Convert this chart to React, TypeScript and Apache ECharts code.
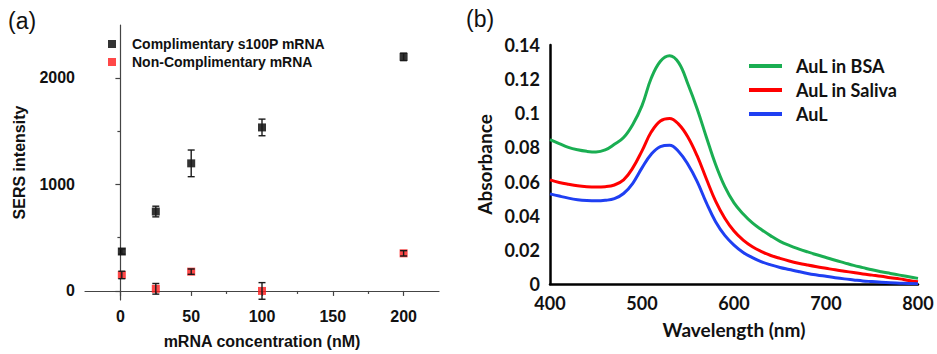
import React, { useEffect, useRef } from "react";
import * as echarts from "echarts";

// ---- Panel (a) data ----
const concentrations = [1, 25, 50, 100, 200];
const compMean = [370, 745, 1197, 1534, 2196];
const compErr = [25, 50, 125, 78, 35];
const nonCompMean = [150, 20, 181, 0, 353];
const nonCompErr = [35, 50, 25, 78, 25];
const xMajorA = [0, 50, 100, 150, 200];
const xMinorA = [25, 75, 125, 175];
const yMajorA = [0, 1000, 2000];
const yMinorA = [500, 1500];

// ---- Panel (b) data ----
const wavelengths = [
  400, 410, 420, 430, 440, 450, 460, 470, 480, 490, 500, 510, 520, 530, 540, 550, 560, 570, 580, 590, 600,
  610, 620, 630, 640, 650, 660, 670, 680, 690, 700, 710, 720, 730, 740, 750, 760, 770, 780, 790, 800,
];
const aulBSA = [
  0.0845, 0.0822, 0.0800, 0.0786, 0.0777, 0.0773, 0.0785, 0.0818, 0.0858, 0.0935, 0.1045, 0.1205, 0.1305, 0.1337,
  0.1295, 0.1170, 0.1025, 0.0860, 0.0700, 0.0570, 0.0475, 0.0410, 0.0358, 0.0318, 0.0282, 0.0250, 0.0226, 0.0206,
  0.0188, 0.0171, 0.0155, 0.0139, 0.0124, 0.0109, 0.0096, 0.0083, 0.0072, 0.0062, 0.0052, 0.0042, 0.0033,
];
const aulSaliva = [
  0.0610, 0.0595, 0.0584, 0.0575, 0.0570, 0.0568, 0.0570, 0.0580, 0.0610, 0.0680, 0.0780, 0.0890, 0.0955, 0.0970,
  0.0935, 0.0860, 0.0750, 0.0615, 0.0485, 0.0385, 0.0310, 0.0257, 0.0218, 0.0190, 0.0167, 0.0150, 0.0135, 0.0122,
  0.0111, 0.0101, 0.0092, 0.0083, 0.0075, 0.0067, 0.0059, 0.0052, 0.0045, 0.0037, 0.0030, 0.0021, 0.0013,
];
const aul = [
  0.0528, 0.0515, 0.0503, 0.0494, 0.0489, 0.0487, 0.0490, 0.0500, 0.0530, 0.0590, 0.0680, 0.0760, 0.0805, 0.0813,
  0.0775, 0.0700, 0.0600, 0.0475, 0.0365, 0.0285, 0.0228, 0.0185, 0.0155, 0.0130, 0.0112, 0.0097, 0.0085, 0.0073,
  0.0062, 0.0053, 0.0045, 0.0037, 0.0030, 0.0024, 0.0018, 0.0014, 0.0010, 0.0007, 0.0005, 0.0003, 0.0002,
];

const seriesNamesA = ["Complimentary s100P mRNA", "Non-Complimentary mRNA"];
const seriesNamesB = ["AuL in BSA", "AuL in Saliva", "AuL"];

const FA = "'Liberation Sans', Arial, sans-serif";
const FB = "Lato, 'Open Sans', sans-serif";

function errorBarSeries(means: number[], errs: number[]) {
  return {
    type: "custom",
    xAxisIndex: 0,
    yAxisIndex: 0,
    z: 5,
    silent: true,
    data: concentrations.map((c, i) => [c, means[i] - errs[i], means[i] + errs[i]]),
    renderItem: (params: any, api: any) => {
      const x = api.value(0);
      const lo = api.coord([x, api.value(1)]);
      const hi = api.coord([x, api.value(2)]);
      const hw = 3.5;
      const st = { stroke: "#1a1a1a", lineWidth: 1.4 };
      return {
        type: "group",
        children: [
          { type: "line", shape: { x1: lo[0], y1: lo[1], x2: hi[0], y2: hi[1] }, style: st },
          { type: "line", shape: { x1: lo[0] - hw, y1: lo[1], x2: lo[0] + hw, y2: lo[1] }, style: st },
          { type: "line", shape: { x1: hi[0] - hw, y1: hi[1], x2: hi[0] + hw, y2: hi[1] }, style: st },
        ],
      };
    },
  };
}

export default function App() {
  const ref = useRef<HTMLDivElement>(null);
  useEffect(() => {
    const chart = echarts.init(ref.current!, null, { renderer: "svg" });
    const axisA = { lineStyle: { color: "#444", width: 1.2 } };
    const labelA = { color: "#111", fontFamily: FA, fontWeight: "bold", fontSize: 16 };
    const labelB = { color: "#111", fontFamily: FB, fontWeight: "bold", fontSize: 18 };
    const plain = (v: number) => String(v);
    const option: any = {
      animation: false,
      backgroundColor: "#fff",
      grid: [
        { left: 85, top: 25, width: 354, height: 275 },
        { left: 550, top: 45, width: 368, height: 239 },
      ],
      xAxis: [
        {
          gridIndex: 0, type: "value", min: -25, max: 225, position: "bottom",
          axisLine: { show: true, ...axisA },
          axisTick: { show: true, length: 5, customValues: xMajorA, lineStyle: { color: "#444", width: 1.2 } },
          axisLabel: { ...labelA, margin: 8, customValues: xMajorA, formatter: plain },
          splitLine: { show: false },
          name: "mRNA concentration (nM)", nameLocation: "middle", nameGap: 33,
          nameTextStyle: { color: "#111", fontFamily: FA, fontWeight: "bold", fontSize: 16 },
        },
        {
          gridIndex: 0, type: "value", min: -25, max: 225, position: "bottom",
          axisLine: { show: false },
          axisTick: { show: true, length: 3, customValues: xMinorA, lineStyle: { color: "#444", width: 1.2 } },
          axisLabel: { show: false },
          splitLine: { show: false },
        },
        {
          gridIndex: 1, type: "value", min: 400, max: 800, interval: 100,
          axisLine: { show: true, lineStyle: { color: "#000", width: 2.5 } },
          axisTick: { show: false },
          axisLabel: { ...labelB, margin: 10, formatter: plain },
          splitLine: { show: false },
          name: "Wavelength (nm)", nameLocation: "middle", nameGap: 36,
          nameTextStyle: { color: "#111", fontFamily: FB, fontWeight: "bold", fontSize: 19 },
        },
      ],
      yAxis: [
        {
          gridIndex: 0, type: "value", min: -85, max: 2495, position: "left",
          axisLine: { show: true, ...axisA },
          axisTick: { show: true, length: 5, customValues: yMajorA, lineStyle: { color: "#444", width: 1.2 } },
          axisLabel: { ...labelA, margin: 10, customValues: yMajorA, formatter: plain },
          splitLine: { show: false },
          name: "SERS intensity", nameLocation: "middle", nameGap: 58, nameRotate: 90,
          nameTextStyle: { color: "#111", fontFamily: FA, fontWeight: "bold", fontSize: 16 },
        },
        {
          gridIndex: 0, type: "value", min: -85, max: 2495, position: "left",
          axisLine: { show: false },
          axisTick: { show: true, length: 3, customValues: yMinorA, lineStyle: { color: "#444", width: 1.2 } },
          axisLabel: { show: false },
          splitLine: { show: false },
        },
        {
          gridIndex: 1, type: "value", min: 0, max: 0.14, interval: 0.02,
          axisLine: { show: true, lineStyle: { color: "#000", width: 2.5 } },
          axisTick: { show: false },
          axisLabel: { ...labelB, margin: 10, formatter: (v: number) => (v === 0 ? "0" : String(+v.toFixed(2))) },
          splitLine: { show: false },
          name: "Absorbance", nameLocation: "middle", nameGap: 56, nameRotate: 90,
          nameTextStyle: { color: "#111", fontFamily: FB, fontWeight: "bold", fontSize: 19 },
        },
      ],
      legend: [
        {
          data: seriesNamesA, orient: "vertical", left: 108, top: 36, padding: 0,
          icon: "rect", itemWidth: 8, itemHeight: 8, itemGap: 2,
          textStyle: { color: "#111", fontFamily: FA, fontWeight: "bold", fontSize: 14, lineHeight: 16, padding: [0, 0, 0, 11] },
        },
        {
          data: seriesNamesB, orient: "vertical", left: 749, top: 56, padding: 0,
          icon: "rect", itemWidth: 33, itemHeight: 4, itemGap: 4,
          textStyle: { color: "#111", fontFamily: FB, fontWeight: "bold", fontSize: 18, lineHeight: 20, padding: [0, 0, 0, 9] },
        },
      ],
      graphic: [
        { type: "text", left: 8, top: 9, style: { text: "(a)", font: `23px ${FA}`, fill: "#111" } },
        { type: "text", left: 466, top: 7, style: { text: "(b)", font: `23px ${FA}`, fill: "#111" } },
      ],
      series: [
        {
          name: seriesNamesA[0], type: "scatter", xAxisIndex: 0, yAxisIndex: 0,
          symbol: "rect", symbolSize: 8, itemStyle: { color: "#000" }, z: 3,
          data: concentrations.map((c, i) => [c, compMean[i]]),
        },
        {
          name: seriesNamesA[1], type: "scatter", xAxisIndex: 0, yAxisIndex: 0,
          symbol: "rect", symbolSize: 8, itemStyle: { color: "#ff1a1a" }, z: 3,
          data: concentrations.map((c, i) => [c, nonCompMean[i]]),
        },
        errorBarSeries(compMean, compErr),
        errorBarSeries(nonCompMean, nonCompErr),
        {
          name: seriesNamesB[0], type: "line", xAxisIndex: 2, yAxisIndex: 2, smooth: 0.4,
          showSymbol: false, symbol: "none", lineStyle: { width: 3, color: "#1aae52" }, itemStyle: { color: "#1aae52" },
          data: wavelengths.map((w, i) => [w, aulBSA[i]]),
        },
        {
          name: seriesNamesB[1], type: "line", xAxisIndex: 2, yAxisIndex: 2, smooth: 0.4,
          showSymbol: false, symbol: "none", lineStyle: { width: 3, color: "#ff0000" }, itemStyle: { color: "#ff0000" },
          data: wavelengths.map((w, i) => [w, aulSaliva[i]]),
        },
        {
          name: seriesNamesB[2], type: "line", xAxisIndex: 2, yAxisIndex: 2, smooth: 0.4,
          showSymbol: false, symbol: "none", lineStyle: { width: 3, color: "#1f3ff2" }, itemStyle: { color: "#1f3ff2" },
          data: wavelengths.map((w, i) => [w, aul[i]]),
        },
      ],
    };
    chart.setOption(option);
    return () => chart.dispose();
  }, []);
  return (
    <div
      ref={ref}
      style={{ position: "fixed", left: 0, top: 0, width: 937, height: 354, background: "#fff" }}
    />
  );
}
